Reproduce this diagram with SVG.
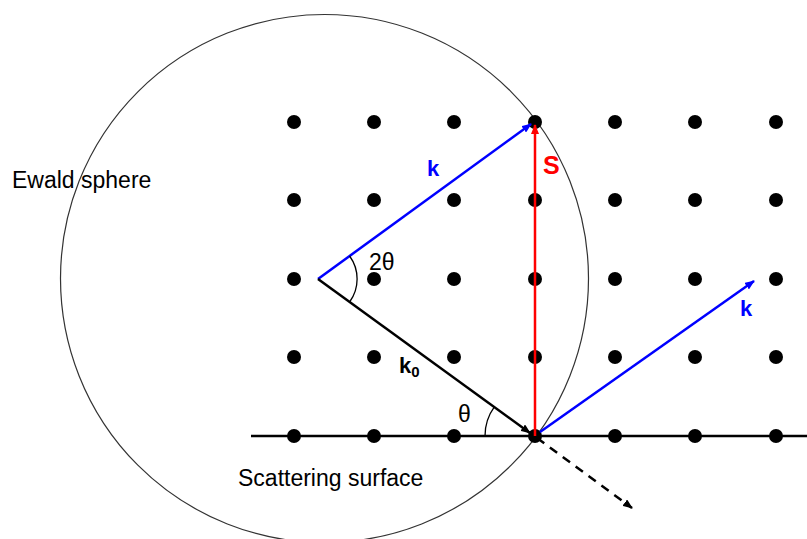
<svg xmlns="http://www.w3.org/2000/svg" width="807" height="539" viewBox="0 0 807 539">
<style>
text{font-family:"Liberation Sans",Arial,sans-serif}
.lbl{font-size:23px;fill:#000}
.dot{fill:#000}
.vec{stroke-width:2.5;fill:none}
</style>
<defs>
<marker id="ab" viewBox="0 0 10 8" refX="9" refY="4" markerWidth="10" markerHeight="8" markerUnits="userSpaceOnUse" orient="auto"><path d="M0,0L10,4L0,8z" fill="#0000ff"/></marker>
<marker id="ak" viewBox="0 0 10 8" refX="9" refY="4" markerWidth="10" markerHeight="8" markerUnits="userSpaceOnUse" orient="auto"><path d="M0,0L10,4L0,8z" fill="#000"/></marker>
<marker id="ar" viewBox="0 0 10 8" refX="9" refY="4" markerWidth="10" markerHeight="8" markerUnits="userSpaceOnUse" orient="auto"><path d="M0,0L10,4L0,8z" fill="#ff0000"/></marker>
</defs>
<rect width="807" height="539" fill="#fff"/>
<g id="sphere">
<circle cx="324.5" cy="278.5" r="264" fill="none" stroke="#333" stroke-width="1.2"/>
</g>
<g id="surface">
<line x1="251" y1="436" x2="807" y2="436" stroke="#000" stroke-width="2.5"/>
</g>
<g id="lattice">
<g class="dot">
<circle cx="294" cy="122" r="7"/><circle cx="374" cy="122" r="7"/><circle cx="454" cy="122" r="7"/><circle cx="535" cy="122" r="7"/><circle cx="615" cy="122" r="7"/><circle cx="695" cy="122" r="7"/><circle cx="776" cy="122" r="7"/>
<circle cx="294" cy="200" r="7"/><circle cx="374" cy="200" r="7"/><circle cx="454" cy="200" r="7"/><circle cx="535" cy="200" r="7"/><circle cx="615" cy="200" r="7"/><circle cx="695" cy="200" r="7"/><circle cx="776" cy="200" r="7"/>
<circle cx="294" cy="279" r="7"/><circle cx="374" cy="279" r="7"/><circle cx="454" cy="279" r="7"/><circle cx="535" cy="279" r="7"/><circle cx="615" cy="279" r="7"/><circle cx="695" cy="279" r="7"/><circle cx="776" cy="279" r="7"/>
<circle cx="294" cy="357" r="7"/><circle cx="374" cy="357" r="7"/><circle cx="454" cy="357" r="7"/><circle cx="535" cy="357" r="7"/><circle cx="615" cy="357" r="7"/><circle cx="695" cy="357" r="7"/><circle cx="776" cy="357" r="7"/>
<circle cx="294" cy="436" r="7"/><circle cx="374" cy="436" r="7"/><circle cx="454" cy="436" r="7"/><circle cx="535" cy="436" r="7"/><circle cx="615" cy="436" r="7"/><circle cx="695" cy="436" r="7"/><circle cx="776" cy="436" r="7"/>
</g>
</g>
<g id="connectors">
<line class="vec" x1="318" y1="279" x2="531" y2="124" stroke="#0000ff" marker-end="url(#ab)"/>
<line class="vec" x1="318" y1="279" x2="530" y2="433" stroke="#000" marker-end="url(#ak)"/>
<line class="vec" x1="535" y1="436" x2="535" y2="125" stroke="#ff0000" marker-end="url(#ar)"/>
<line class="vec" x1="540" y1="432" x2="754" y2="281" stroke="#0000ff" marker-end="url(#ab)"/>
<line x1="537" y1="438" x2="632" y2="508" stroke="#000" stroke-width="2.5" stroke-dasharray="9,7" marker-end="url(#ak)"/>
<path d="M349.6,256.0 A39,39 0 0 1 349.6,302.0" fill="none" stroke="#000" stroke-width="1.3"/>
<path d="M485,436 A50,50 0 0 1 494.5,406.6" fill="none" stroke="#000" stroke-width="1.3"/>
</g>
<g id="labels">
<text class="lbl" x="12" y="188">Ewald sphere</text>
<text class="lbl" x="238" y="486">Scattering surface</text>
<text x="427" y="176" font-size="22" font-weight="bold" fill="#0000ff">k</text>
<text x="543" y="174" font-size="25" font-weight="bold" fill="#ff0000">S</text>
<text x="740" y="316" font-size="22" font-weight="bold" fill="#0000ff">k</text>
<text x="399" y="373" font-size="22" font-weight="bold" fill="#000">k<tspan font-size="15" dy="4">0</tspan></text>
<text class="lbl" x="369" y="270">2θ</text>
<text class="lbl" x="458" y="422">θ</text>
</g>
</svg>
